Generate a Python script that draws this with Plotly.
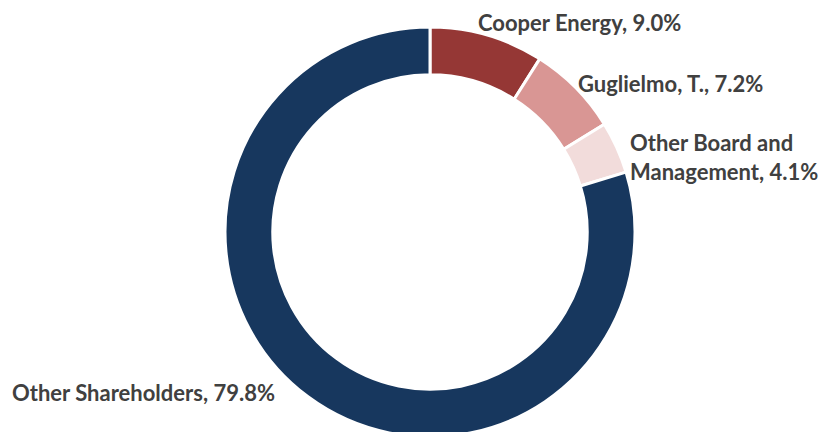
import plotly.graph_objects as go

labels = ["Cooper Energy", "Guglielmo, T.", "Other Board and Management", "Other Shareholders"]
values = [9.0, 7.2, 4.1, 79.8]
colors = ["#953735", "#D99694", "#F2DCDB", "#17375E"]

W, H = 827, 442

fig = go.Figure(go.Pie(
    labels=labels, values=values, sort=False, direction="clockwise", rotation=0,
    hole=0.767, textinfo="none", hoverinfo="label+percent",
    marker=dict(colors=colors, line=dict(color="white", width=3)),
    domain=dict(x=[225 / W, 635 / W], y=[(H - 232 - 205) / H, (H - 232 + 205) / H]),
    showlegend=False,
))

font = dict(family="Lato", size=22, color="#404040")

def ann(text, x, y, xanchor="left"):
    fig.add_annotation(text=f"<b>{text}</b>", x=x / W, y=1 - y / H, xref="paper", yref="paper",
                       xanchor=xanchor, yanchor="middle", showarrow=False, font=font,
                       xshift=-2)

ann(f"{labels[0]}, {values[0]:.1f}%", 478, 22)
ann(f"{labels[1]}, {values[1]:.1f}%", 578, 83)
ann("Other Board and", 630, 142)
ann(f"Management, {values[2]:.1f}%", 630, 172)
ann(f"{labels[3]}, {values[3]:.1f}%", 12, 392)

fig.update_layout(width=W, height=H, margin=dict(l=0, r=0, t=0, b=0),
                  paper_bgcolor="white", plot_bgcolor="white")

fig.write_html("out.html", post_script="document.body.style.overflow='hidden';document.documentElement.style.overflow='hidden';")
